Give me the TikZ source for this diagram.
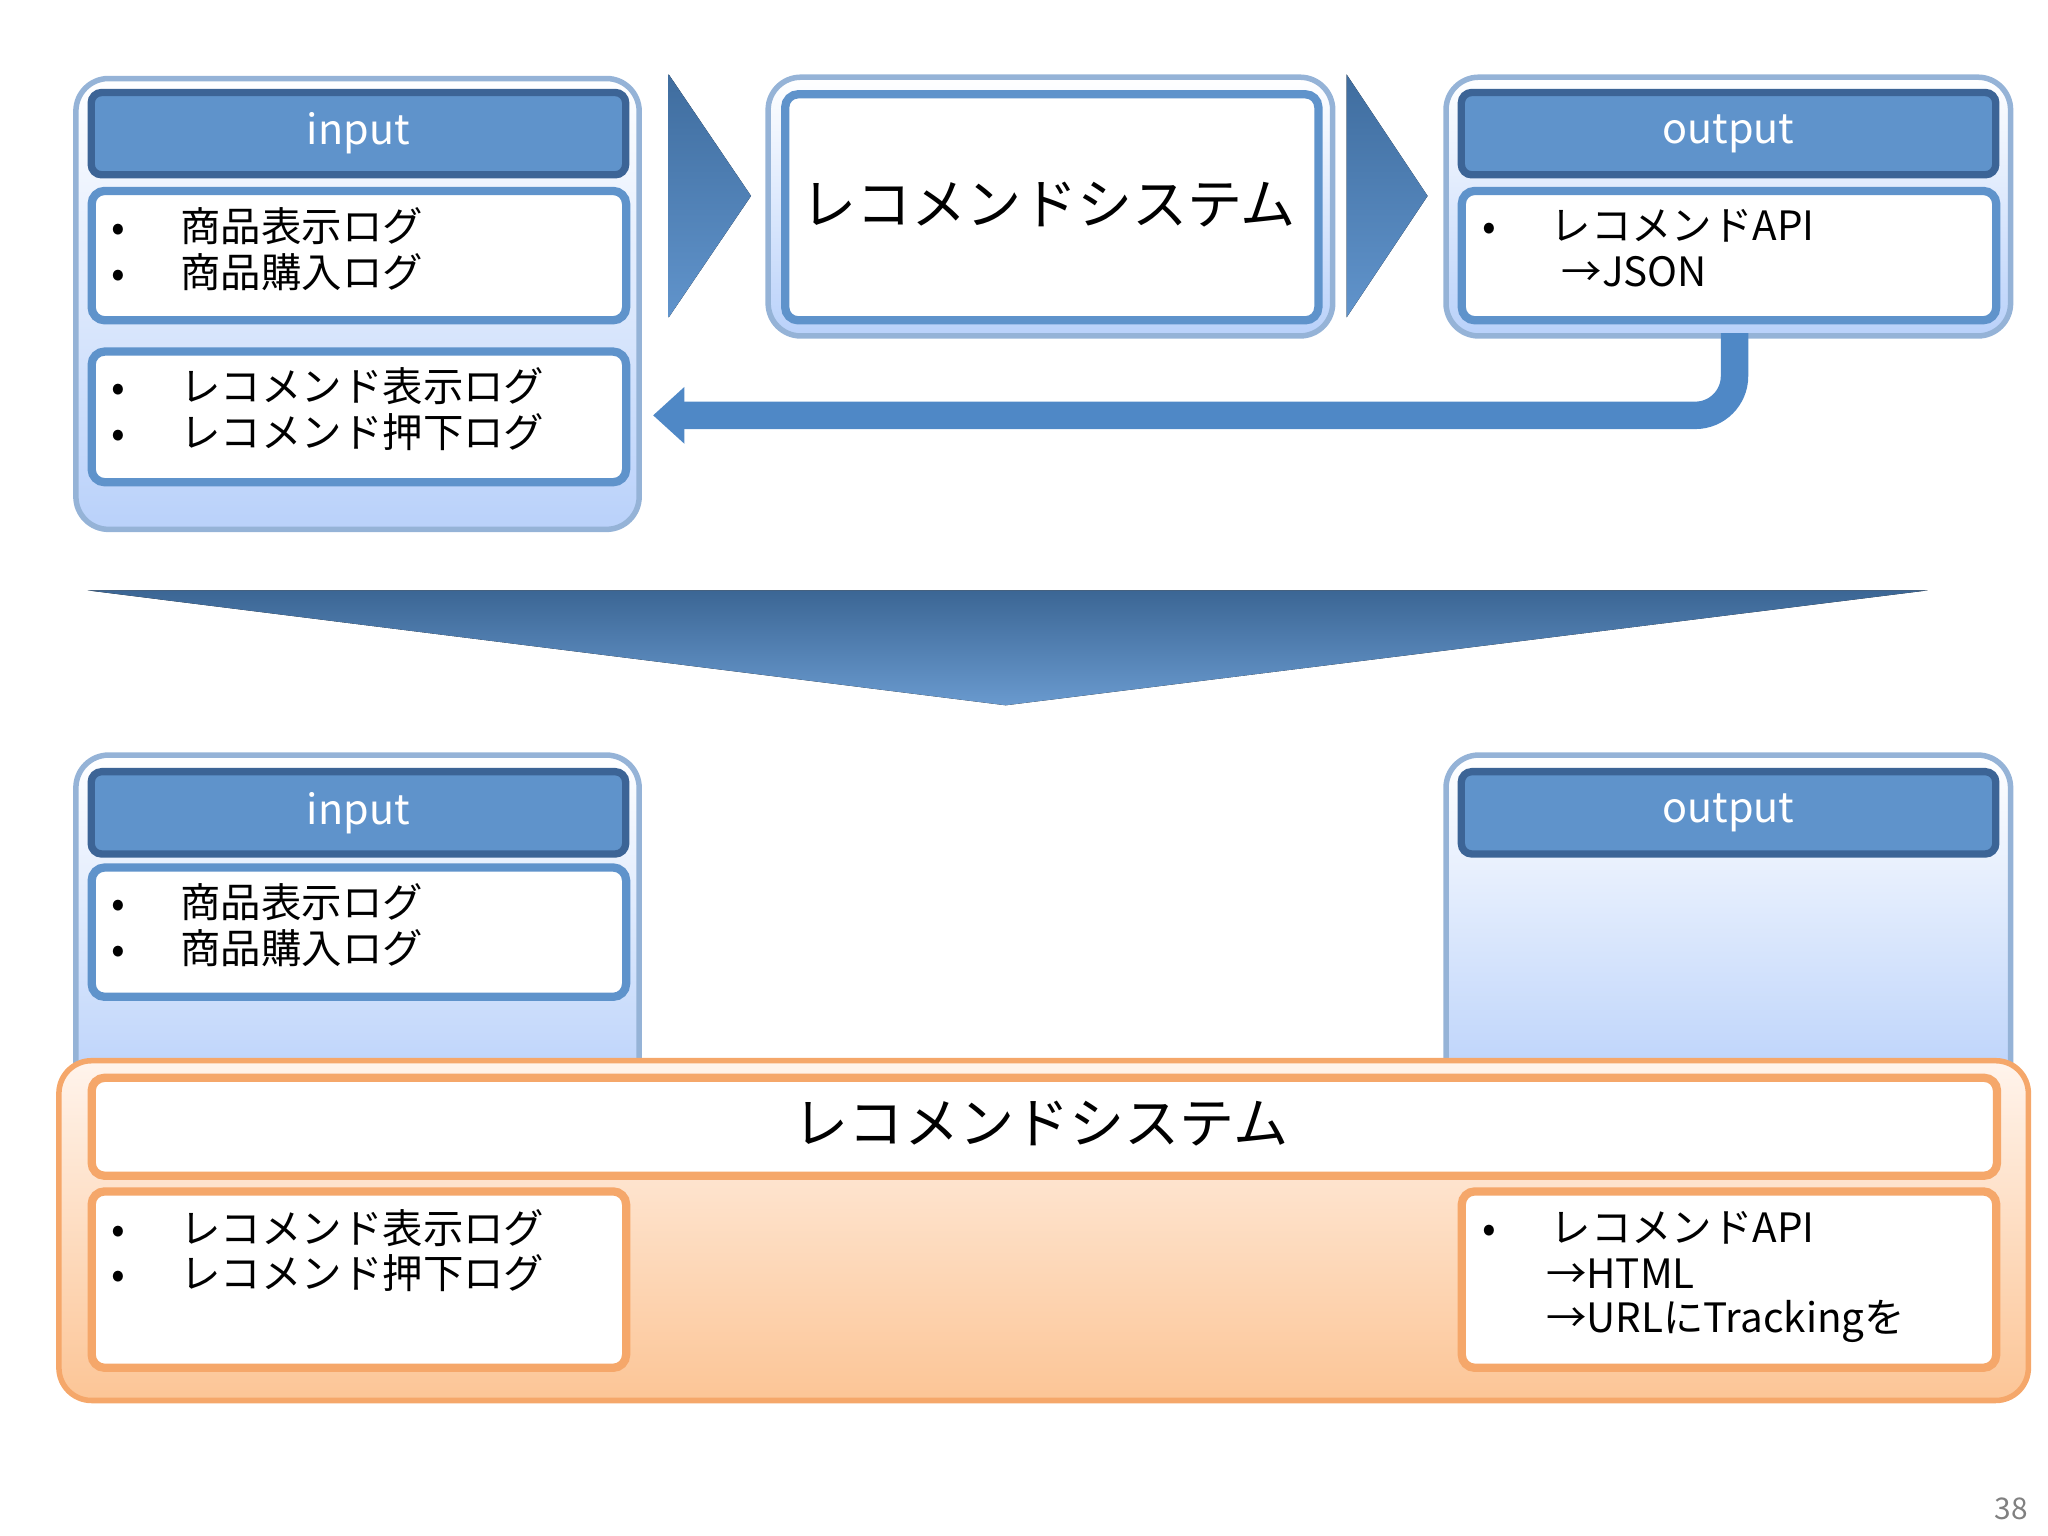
\documentclass[tikz,border=0pt]{standalone}
\usepackage{fontspec}
\setmainfont{Noto Sans CJK JP}
\usetikzlibrary{arrows.meta}
\definecolor{hdr}{HTML}{5F93CB}
\definecolor{hdrb}{HTML}{3C6496}
\definecolor{bl}{HTML}{4F88C6}
\definecolor{cbord}{HTML}{95B3D7}
\definecolor{cbot}{HTML}{B9D1FA}
\definecolor{obord}{HTML}{F5A76A}
\definecolor{obot}{HTML}{FCC596}
\definecolor{otop}{HTML}{FFF4EC}
\tikzset{
  cont/.style={draw=cbord,line width=1.2pt,rounded corners=0.25cm,top color=white,bottom color=cbot},
  hdrbox/.style={draw=hdrb,line width=1.6pt,rounded corners=0.08cm,fill=hdr,text=white,font=\fontsize{9}{10}\selectfont},
  wbox/.style={draw=hdr,line width=1.8pt,rounded corners=0.1cm,fill=white},
  obox/.style={draw=obord,line width=1.8pt,rounded corners=0.1cm,fill=white},
  txt/.style={anchor=west,font=\fontsize{8.8}{10}\selectfont,inner sep=0},
  big/.style={font=\fontsize{12}{14}\selectfont},
  chev/.style={top color=bl!80!black,bottom color=bl!90!white,draw=none},
}
\begin{document}
\begin{tikzpicture}[x=0.01cm,y=-0.01cm]
\useasboundingbox (0,0) rectangle (1568,1176);
% top left
\node[cont,minimum width=4.31cm,minimum height=3.45cm,anchor=north west] (c1) at (56,58) {};
\node[hdrbox,minimum width=4.09cm,minimum height=0.63cm,anchor=north west] (h1) at (67,68) {input};
\node[wbox,minimum width=4.09cm,minimum height=0.99cm,anchor=north west] (b1) at (67,143) {};
\node[txt] (t1a) at (85,173) {•\hspace{0.42cm}商品表示ログ};
\node[txt] (t1b) at (85,208) {•\hspace{0.42cm}商品購入ログ};
\node[wbox,minimum width=4.09cm,minimum height=1.00cm,anchor=north west] (b2) at (67,266) {};
\node[txt] (t2a) at (85,296) {•\hspace{0.42cm}レコメンド表示ログ};
\node[txt] (t2b) at (85,331) {•\hspace{0.42cm}レコメンド押下ログ};
% chevrons
\fill[chev] (512,57) -- (575,150) -- (512,243) -- cycle;
\fill[chev] (1031,57) -- (1093,150) -- (1031,243) -- cycle;
% middle
\node[cont,minimum width=4.32cm,minimum height=1.98cm,anchor=north west] (c2) at (586,57) {};
\node[wbox,minimum width=4.08cm,minimum height=1.73cm,anchor=north west] (m) at (598,69) {};
\node[big] (mt) at (803,157) {レコメンドシステム};
% right
\node[cont,minimum width=4.32cm,minimum height=1.98cm,anchor=north west] (c3) at (1105,57) {};
\node[hdrbox,minimum width=4.09cm,minimum height=0.63cm,anchor=north west] (h3) at (1116,68) {output};
\node[wbox,minimum width=4.09cm,minimum height=0.99cm,anchor=north west] (b3) at (1116,143) {};
\node[txt] (t3a) at (1134,173) {•\hspace{0.42cm}レコメンドAPI};
\node[txt] (t3b) at (1195,208) {→JSON};
% feedback arrow
\coordinate (fa) at (1328,255);
\coordinate (fb) at (500,318);
\draw[bl,line width=0.21cm,rounded corners=0.3cm,-{Triangle[length=0.24cm,width=0.42cm]}] (fa) |- (fb);
% big down arrow
\fill[top color=bl!75!black,bottom color=bl!85!white] (67,452) -- (1476,452) -- (770,540) -- cycle;
% bottom containers
\node[cont,minimum width=4.31cm,minimum height=2.6cm,anchor=north west] (c4) at (56,576) {};
\node[hdrbox,minimum width=4.09cm,minimum height=0.63cm,anchor=north west] (h4) at (67,588) {input};
\node[wbox,minimum width=4.09cm,minimum height=0.99cm,anchor=north west] (b4) at (67,661) {};
\node[txt] (t4a) at (85,691) {•\hspace{0.42cm}商品表示ログ};
\node[txt] (t4b) at (85,726) {•\hspace{0.42cm}商品購入ログ};
\node[cont,minimum width=4.32cm,minimum height=2.6cm,anchor=north west] (c5) at (1105,576) {};
\node[hdrbox,minimum width=4.09cm,minimum height=0.63cm,anchor=north west] (h5) at (1116,588) {output};
% orange
\node[draw=obord,line width=1.2pt,rounded corners=0.25cm,top color=otop,bottom color=obot,minimum width=15.07cm,minimum height=2.6cm,anchor=north west] (o) at (43,810) {};
\node[obox,minimum width=14.58cm,minimum height=0.75cm,anchor=north west] (ot) at (67,822) {};
\node[big] (ott) at (797,860) {レコメンドシステム};
\node[obox,minimum width=4.09cm,minimum height=1.35cm,anchor=north west] (ob1) at (67,909) {};
\node[txt] (t6a) at (85,940) {•\hspace{0.42cm}レコメンド表示ログ};
\node[txt] (t6b) at (85,975) {•\hspace{0.42cm}レコメンド押下ログ};
\node[obox,minimum width=4.09cm,minimum height=1.35cm,anchor=north west] (ob2) at (1116,909) {};
\node[txt] (t7a) at (1134,940) {•\hspace{0.42cm}レコメンドAPI};
\node[txt] (t7b) at (1183,975) {→HTML};
\node[txt] (t7c) at (1183,1012) {→URLにTrackingを};
\node[text=gray,font=\fontsize{6.5}{7}\selectfont] (pg) at (1540,1155) {38};
\end{tikzpicture}
\end{document}
